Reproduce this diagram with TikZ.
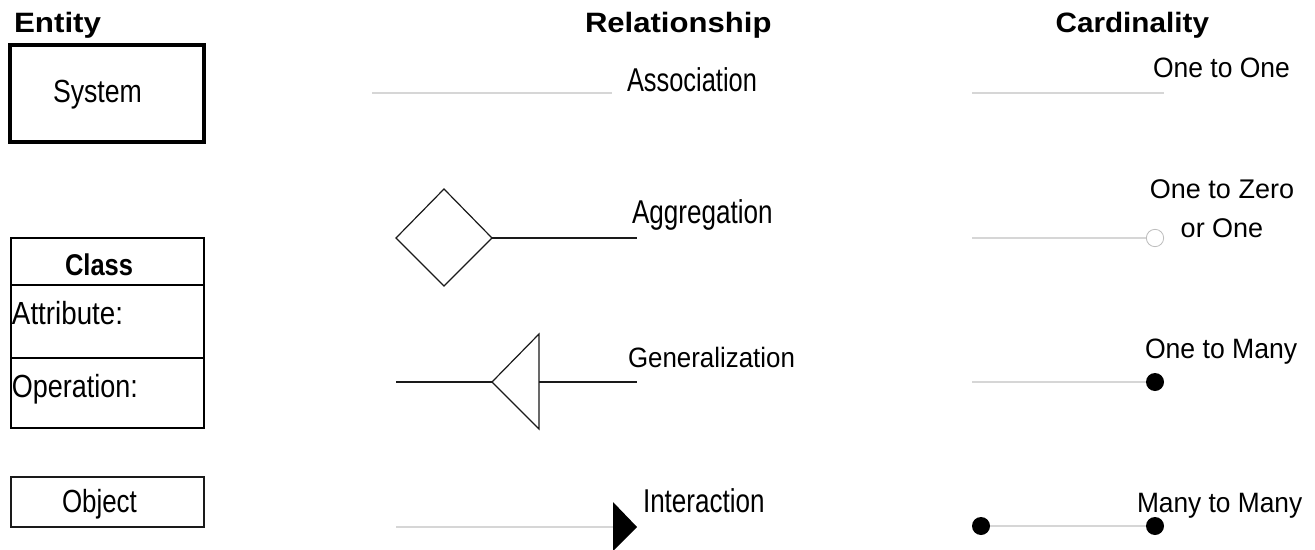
\documentclass[tikz,border=0pt]{standalone}
\usepackage{fontspec}
\usepackage{graphicx}
\setmainfont{Liberation Sans}
\newcommand{\sx}[2]{\scalebox{#1}[1]{#2}}
\newcommand{\fsBig}{\fontsize{24.75pt}{28pt}\selectfont}
\newcommand{\fsMid}{\fontsize{24pt}{28pt}\selectfont}
\newcommand{\fsCls}{\fontsize{22.5pt}{26pt}\selectfont}
\newcommand{\fsStd}{\fontsize{21pt}{25pt}\selectfont}
\newcommand{\fsTwo}{\fontsize{20.25pt}{29.25pt}\selectfont}
\definecolor{lightline}{HTML}{D6D6D6}
\definecolor{darkline}{HTML}{1A1A1A}
\definecolor{ringgray}{HTML}{BDBDBD}
\begin{document}
\begin{tikzpicture}[x=0.75pt,y=-0.75pt,
  lbl/.style={inner sep=0pt, outer sep=0pt, anchor=base west},
  lblr/.style={inner sep=0pt, outer sep=0pt, anchor=base east},
  pale/.style={draw=lightline, line width=1.1pt},
  firm/.style={draw=darkline, line width=0.9pt},
  dot/.style={circle, fill=black, inner sep=0pt, minimum size=13.5pt},
  ring/.style={circle, draw=ringgray, fill=white, line width=0.6pt, inner sep=0pt, minimum size=13pt},
  boxline/.style={draw=black, rectangle, inner sep=0pt}
]
\useasboundingbox (0,0) rectangle (1315,550);
\fill[white] (0,0) rectangle (1315,550);

% ---------- headers
\node[lbl, font=\fsStd\bfseries] (hEntity) at (14,32) {\sx{1.12}{Entity}};
\node[lbl, font=\fsStd\bfseries] (hRel) at (585,32) {\sx{1.11}{Relationship}};
\node[lblr, font=\fsStd\bfseries] (hCard) at (1209,32) {\sx{1.06}{Cardinality}};

% ---------- entity column
\node[boxline, line width=3pt, minimum width=145.5pt, minimum height=72.75pt] (system) at (107,93.5) {};
\node[lbl, font=\fsMid] (systemtxt) at (53,102) {\sx{0.834}{System}};

\coordinate (clsTL) at (11,238);
\coordinate (clsBR) at (204,428);
\draw[line width=1.5pt] (clsTL) rectangle (clsBR);
\coordinate (d1L) at (11,285); \coordinate (d1R) at (204,285);
\coordinate (d2L) at (11,358); \coordinate (d2R) at (204,358);
\draw[line width=1.5pt] (d1L) -- (d1R);
\draw[line width=1.5pt] (d2L) -- (d2R);
\node[lbl, font=\fsCls\bfseries] (classtxt) at (65,275) {\sx{0.85}{Class}};
\node[lbl, font=\fsMid] (attrtxt) at (12,324) {\sx{0.867}{Attribute:}};
\node[lbl, font=\fsMid] (optxt) at (12,397) {\sx{0.843}{Operation:}};

\node[boxline, draw=darkline, line width=1pt, minimum width=144.75pt, minimum height=37.5pt] (object) at (107.5,502) {};
\node[lbl, font=\fsMid] (objtxt) at (62,512) {\sx{0.81}{Object}};

% ---------- relationship column
\coordinate (asA) at (372,93); \coordinate (asB) at (612,93);
\draw[pale] (asA) -- (asB);
\node[lbl, font=\fsBig] (assoc) at (627,91) {\sx{0.77}{Association}};

\coordinate (dmL) at (396,238); \coordinate (dmT) at (444,189);
\coordinate (dmR) at (492,238); \coordinate (dmB) at (444,286);
\coordinate (agE) at (637,238);
\draw[firm] (dmL) -- (dmT) -- (dmR) -- (dmB) -- cycle;
\draw[firm] (dmR) -- (agE);
\node[lbl, font=\fsBig] (aggr) at (632,223) {\sx{0.79}{Aggregation}};

\coordinate (gnA) at (396,382); \coordinate (gnApex) at (492,382);
\coordinate (gnT) at (539,334); \coordinate (gnB) at (539,429);
\coordinate (gnM) at (539,382); \coordinate (gnE) at (637,382);
\draw[firm] (gnA) -- (gnApex);
\draw[firm] (gnApex) -- (gnT) -- (gnB) -- cycle;
\draw[firm] (gnM) -- (gnE);
\node[lbl, font=\fsStd] (gen) at (628,367) {\sx{0.925}{Generalization}};

\coordinate (inA) at (396,527); \coordinate (inB) at (613,527);
\coordinate (inT) at (613,502); \coordinate (inApex) at (637,527); \coordinate (inBot) at (613,551);
\draw[pale] (inA) -- (inB);
\fill[black] (inT) -- (inApex) -- (inBot) -- cycle;
\node[lbl, font=\fsBig] (inter) at (643,512) {\sx{0.79}{Interaction}};

% ---------- cardinality column
\coordinate (ooA) at (972,93); \coordinate (ooB) at (1164,93);
\draw[pale, line width=0.8pt] (ooA) -- (ooB);
\node[lbl, font=\fsStd] (oneone) at (1153,77) {\sx{0.946}{One to One}};

\coordinate (ozA) at (972,238);
\node[ring] (ozRing) at (1155,238) {};
\draw[pale, line width=0.8pt] (ozA) -- (ozRing.west);
\node[font=\fsTwo, align=center, inner sep=0pt, anchor=base] (onezero) at (1222,237) {One to Zero\\or One};

\coordinate (omA) at (972,382);
\node[dot] (omDot) at (1155,382) {};
\draw[pale, line width=0.8pt] (omA) -- (omDot);
\node[lbl, font=\fsStd] (onemany) at (1145,358) {\sx{0.95}{One to Many}};

\node[dot] (mmL) at (981,526) {};
\node[dot] (mmR) at (1155,526) {};
\draw[pale, line width=0.8pt] (mmL) -- (mmR);
\node[lbl, font=\fsStd] (manymany) at (1137,512) {\sx{0.94}{Many to Many}};
\end{tikzpicture}
\end{document}
